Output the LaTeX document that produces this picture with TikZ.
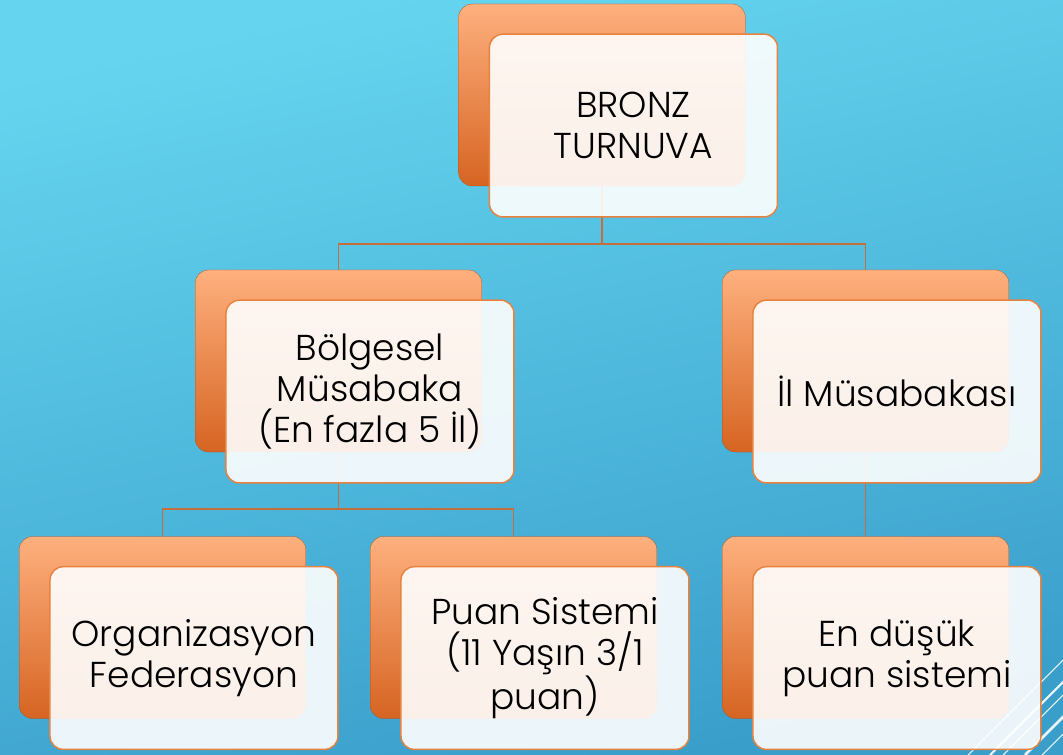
\documentclass[tikz,border=0pt]{standalone}
\usepackage{fontspec}
\setmainfont{Poppins}[UprightFont=* Light]
\usepackage{tikz}
\usetikzlibrary{positioning}
\definecolor{skytop}{RGB}{101,213,239}
\definecolor{skybot}{RGB}{58,158,203}
\definecolor{peach}{RGB}{254,176,126}
\definecolor{peachmid}{RGB}{244,158,106}
\definecolor{rust}{RGB}{214,100,34}
\definecolor{rim}{RGB}{232,130,62}
\definecolor{wire}{RGB}{196,110,60}
\tikzset{
    %Define style for back boxes
    backbox/.style={
           rectangle,
           rounded corners=10pt,
           draw=rust!80!black, very thin,
           top color=peach,
           middle color=peachmid,
           bottom color=rust,
           minimum width=215pt,
           minimum height=136.5pt},
    %Define style for front boxes
    frontbox/.style={
           rectangle,
           rounded corners=10pt,
           draw=rim, line width=1.1pt,
           fill=white, fill opacity=0.9, text opacity=1,
           minimum width=216pt,
           minimum height=137pt,
           align=center,
           font=\fontsize{27}{31}\selectfont,
           xshift=23.6pt, yshift=-22.9pt},
    % Define connector style
    link/.style={
           draw=wire,
           line width=1.1pt},
    streak/.style={
           draw=white,
           opacity=0.9}
}
\begin{document}
\begin{tikzpicture}[x=0.75pt,y=-0.75pt]
\useasboundingbox (0,0) rectangle (1063,755);
\shade[top color=skytop, bottom color=skybot, shading angle=12] (0,0) rectangle (1063,755);
% streaks in the corner
\begin{scope}
\clip (0,0) rectangle (1063,755);
\draw[streak, line width=0.8pt] (968,755) -- (1068,655);
\draw[streak, line width=1.6pt] (990,755) -- (1068,677);
\draw[streak, line width=0.8pt] (1003,755) -- (1068,690);
\draw[streak, line width=2pt] (1025,755) -- (1068,712);
\draw[streak, line width=0.8pt] (1042,755) -- (1068,729);
\end{scope}
% connectors
\coordinate (j1) at (602,244);
\coordinate (j2) at (338.5,509);
\node[backbox] (b1) at (602,95) {};
\node[backbox] (b2) at (338.5,361) {};
\node[backbox] (b3) at (865.5,361) {};
\node[backbox] (b4) at (162.5,627.5) {};
\node[backbox] (b5) at (513.5,627.5) {};
\node[backbox] (b6) at (865.5,627.5) {};
\draw[link] (b1.south) -- (j1) -| (b2.north);
\draw[link] (j1) -| (b3.north);
\draw[link] (b2.south) -- (j2) -| (b4.north);
\draw[link] (j2) -| (b5.north);
\draw[link] (b3.south) -- (b6.north);
\node[frontbox] (f1) at (b1) {BRONZ\\TURNUVA};
\node[frontbox] (f2) at (b2) {Bölgesel\\Müsabaka\\(En fazla 5 İl)};
\node[frontbox] (f3) at (b3) {İl Müsabakası};
\node[frontbox] (f4) at (b4) {Organizasyon\\Federasyon};
\node[frontbox] (f5) at (b5) {Puan Sistemi\\(11 Yaşın 3/1\\puan)};
\node[frontbox] (f6) at (b6) {En düşük\\puan sistemi};
\end{tikzpicture}
\end{document}
